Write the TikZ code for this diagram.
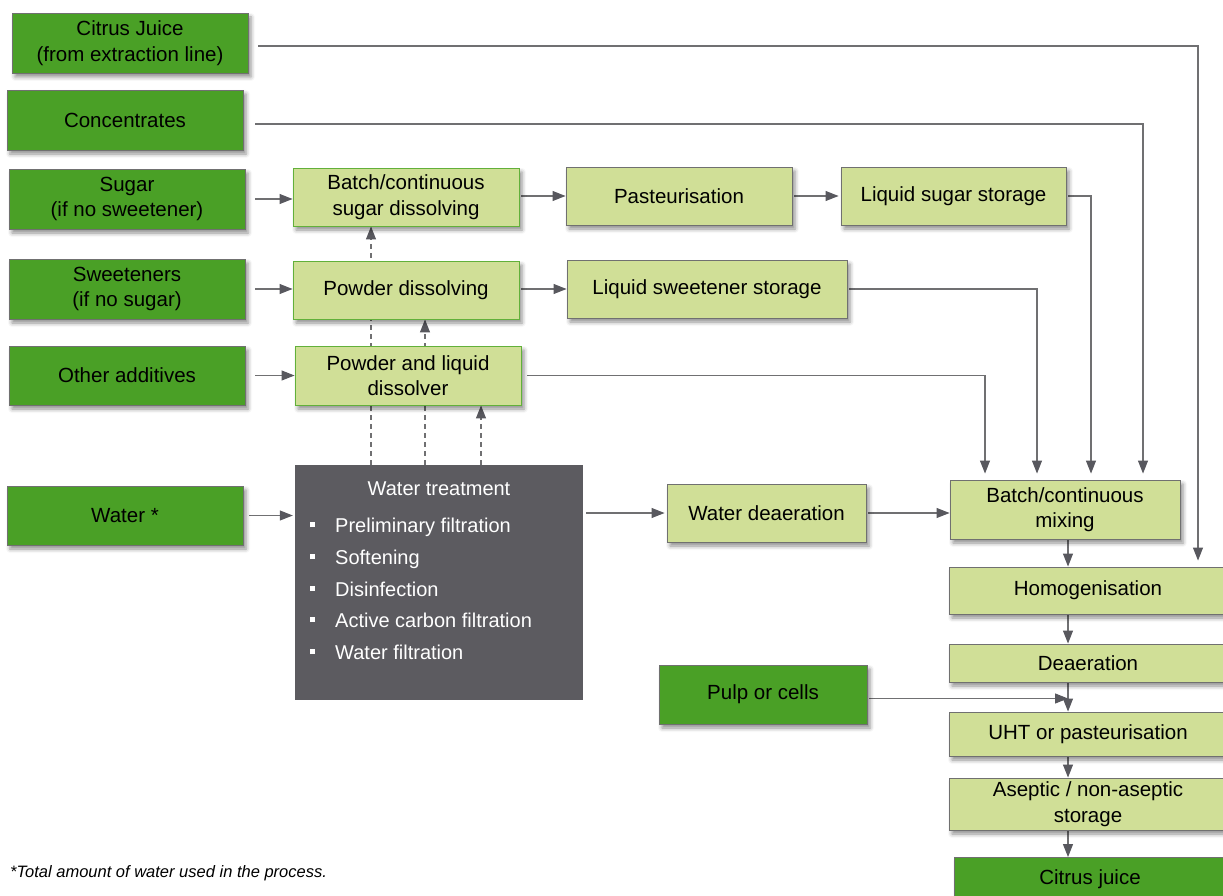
\documentclass[tikz,border=0pt]{standalone}
\usepackage{fontspec}
\setmainfont{Liberation Sans}
\usetikzlibrary{arrows.meta,shadows.blur}
\pgfdeclarelayer{background}
\pgfsetlayers{background,main}

\definecolor{dkgreen}{RGB}{74,160,38}
\definecolor{ltgreen}{RGB}{208,223,151}
\definecolor{edgegray}{RGB}{112,112,112}
\definecolor{edgegreen}{RGB}{98,176,58}
\definecolor{wtgray}{RGB}{92,91,96}
\definecolor{linegray}{RGB}{112,112,114}
\definecolor{tipgray}{RGB}{88,88,94}

\tikzset{
  boxbase/.style={rectangle, inner sep=0pt, align=center, line width=0.9pt,
    font=\fontsize{20.5}{25.5}\selectfont,
    blur shadow={shadow xshift=3pt, shadow yshift=-4pt, shadow blur radius=4pt, shadow opacity=45}},
  src/.style={boxbase, fill=dkgreen, draw=edgegray},
  proc/.style={boxbase, fill=ltgreen, draw=edgegray},
  procg/.style={boxbase, fill=ltgreen, draw=edgegreen},
  darkbox/.style={rectangle, inner sep=0pt, fill=wtgray, draw=none},
  wtext/.style={text=white, inner sep=0pt, font=\fontsize{20}{24}\selectfont},
  conn/.style={draw=linegray, line width=1.1pt},
  arr/.style={conn, -{Triangle[length=13pt,width=10pt,color=tipgray]}},
  darr/.style={arr, dash pattern=on 5pt off 4pt},
  note/.style={inner sep=0pt, font=\fontsize{16.5}{19}\selectfont\itshape}
}

\begin{document}
\begin{tikzpicture}[x=1pt,y=-1pt]
\useasboundingbox (0,0) rectangle (1223,896);

% raw materials
\node[src, minimum width=236pt, minimum height=60pt] (cj) at (130,43) {Citrus Juice\\(from extraction line)};
\node[src, minimum width=236pt, minimum height=60pt] (conc) at (125,120) {Concentrates};
\node[src, minimum width=236pt, minimum height=60pt] (sugar) at (127,199) {Sugar\\(if no sweetener)};
\node[src, minimum width=236pt, minimum height=60pt] (sweet) at (127,289) {Sweeteners\\(if no sugar)};
\node[src, minimum width=236pt, minimum height=59pt] (other) at (127,375.5) {Other additives};
\node[src, minimum width=236pt, minimum height=59pt] (water) at (125,515.5) {Water *};
\node[src, minimum width=208pt, minimum height=59pt] (pulp) at (763,694.5) {Pulp or cells};

% dissolving and storage
\node[procg, minimum width=226pt, minimum height=58pt] (bsd) at (406,197) {Batch/continuous\\sugar dissolving};
\node[proc, minimum width=226pt, minimum height=58pt] (past) at (679,196) {Pasteurisation};
\node[proc, minimum width=225pt, minimum height=58pt] (lss) at (953.5,196) {Liquid sugar storage};
\node[procg, minimum width=226pt, minimum height=58pt] (pd) at (406,290) {Powder dissolving};
\node[proc, minimum width=280pt, minimum height=58pt] (lsw) at (707,289) {Liquid sweetener storage};
\node[procg, minimum width=226pt, minimum height=59pt] (pld) at (408,375.5) {Powder and liquid\\dissolver};

% water treatment
\node[darkbox, minimum width=288pt, minimum height=235pt] (wt) at (439,582.5) {};
\node[wtext] (wtt) at (439,489) {Water treatment};
\node[wtext, anchor=base west] (b1) at (310,532) {\makebox[25pt][l]{\rule[5pt]{5pt}{5pt}}Preliminary filtration};
\node[wtext, anchor=base west] (b2) at (310,564) {\makebox[25pt][l]{\rule[5pt]{5pt}{5pt}}Softening};
\node[wtext, anchor=base west] (b3) at (310,596) {\makebox[25pt][l]{\rule[5pt]{5pt}{5pt}}Disinfection};
\node[wtext, anchor=base west] (b4) at (310,627) {\makebox[25pt][l]{\rule[5pt]{5pt}{5pt}}Active carbon filtration};
\node[wtext, anchor=base west] (b5) at (310,659) {\makebox[25pt][l]{\rule[5pt]{5pt}{5pt}}Water filtration};
\node[proc, minimum width=199pt, minimum height=58pt] (wd) at (766.5,513) {Water deaeration};

% main process line
\node[proc, minimum width=230pt, minimum height=59pt] (mix) at (1065,509.5) {Batch/continuous\\mixing};
\node[proc, minimum width=278pt, minimum height=47pt] (hom) at (1088,590.5) {Homogenisation};
\node[proc, minimum width=278pt, minimum height=38pt] (dea) at (1088,663) {Deaeration};
\node[proc, minimum width=278pt, minimum height=44pt] (uht) at (1088,734) {UHT or pasteurisation};
\node[proc, minimum width=278pt, minimum height=52pt] (ase) at (1088,804) {Aseptic / non-aseptic\\storage};
\node[src, minimum width=272pt, minimum height=43pt] (out) at (1090,879) {Citrus juice};

\node[note, anchor=base west] (fn) at (10,877) {*Total amount of water used in the process.};

\coordinate (spine) at (1068,0);

\begin{pgfonlayer}{background}
  % feeds to the mixer and homogeniser
  \draw[arr, shorten <=10pt, shorten >=6pt] ([yshift=-3pt]cj.east) -| ([xshift=110pt]hom.north);
  \draw[arr, shorten <=12pt, shorten >=6pt] ([yshift=-4pt]conc.east) -| ([xshift=78pt]mix.north);
  \draw[arr, shorten <=2pt, shorten >=6pt] (lss.east) -| ([xshift=26pt]mix.north);
  \draw[arr, shorten <=2pt, shorten >=6pt] (lsw.east) -| ([xshift=-28pt]mix.north);
  \draw[arr, shorten <=6pt, shorten >=6pt] (pld.east) -| ([xshift=-80pt]mix.north);

  % dissolving rows
  \draw[arr, shorten <=10pt] (sugar.east) -- (bsd.west |- sugar.east);
  \draw[arr, shorten <=2pt] (bsd.east |- past.west) -- (past.west);
  \draw[arr, shorten <=2pt, shorten >=2pt] (past.east) -- (lss.west);
  \draw[arr, shorten <=10pt] (sweet.east) -- (pd.west |- sweet.east);
  \draw[arr, shorten <=2pt] (pd.east |- lsw.west) -- (lsw.west);
  \draw[arr, shorten <=10pt] (other.east) -- (pld.west |- other.east);

  % water
  \draw[arr, shorten <=6pt, shorten >=2pt] (water.east) -- (wt.west |- water.east);
  \draw[arr, shorten <=3pt, shorten >=2pt] (wt.east |- wd.west) -- (wd.west);
  \draw[arr, shorten <=2pt] (wd.east) -- (mix.west |- wd.east);
  \draw[darr] ([xshift=-68pt]wt.north) coordinate (d1) -- (d1 |- bsd.south);
  \draw[darr] ([xshift=-14pt]wt.north) coordinate (d2) -- (d2 |- pd.south);
  \draw[darr] ([xshift=42pt]wt.north) coordinate (d3) -- (d3 |- pld.south);

  % process line
  \draw[arr] (mix.south -| spine) -- (hom.north -| spine);
  \draw[arr] (hom.south -| spine) -- (dea.north -| spine);
  \draw[arr] (dea.south -| spine) -- (uht.north -| spine);
  \draw[arr, shorten <=2pt] ([yshift=-4pt]pulp.east) coordinate (p1) -- (p1 -| spine);
  \draw[arr] (uht.south -| spine) -- (ase.north -| spine);
  \draw[arr] (ase.south -| spine) -- (out.north -| spine);
\end{pgfonlayer}
\end{tikzpicture}
\end{document}
